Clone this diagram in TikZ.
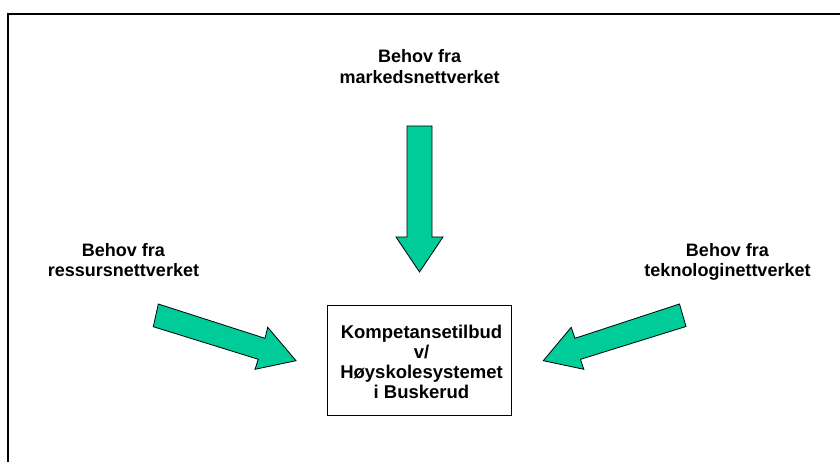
\documentclass[tikz,border=0pt]{standalone}
\usepackage{fontspec}
\setmainfont{Liberation Sans}
\begin{document}
\begin{tikzpicture}[x=1pt,y=-1pt,
  blockarrow/.style={draw=black, line width=0.8pt, fill=tealgreen, line join=miter},
  heading/.style={align=center, inner sep=0pt, anchor=base,
    font=\fontsize{18}{20.6}\selectfont\bfseries},
  offerbox/.style={draw=black, line width=1pt, minimum width=184pt,
    minimum height=110.5pt, inner sep=0pt},
  frameline/.style={draw=black, line width=2pt}]
\definecolor{tealgreen}{HTML}{00CC99}
\useasboundingbox (0,0) rectangle (840,462);

% open frame: top and left edges only
\coordinate (frameTL) at (8.2,14.3);
\coordinate (frameTR) at (841,14.3);
\coordinate (frameBL) at (8.2,463);
\draw[frameline] (frameTR) -- (frameTL) -- (frameBL);

% headings (anchored at the baseline of their last line)
\node[heading] (market) at (419.7,83.3) {Behov fra\\markedsnettverket};
\node[heading] (resource) at (123.5,276.7) {Behov fra\\ressursnettverket};
\node[heading] (technology) at (727.5,276.7) {Behov fra\\teknologinettverket};

% central box
\node[offerbox] (offer) at (419.8,360.4) {};
\node[heading, font=\fontsize{18.5}{20}\selectfont\bfseries] (offertext) at (421.5,398.3)
  {Kompetansetilbud\\v/\\Høyskolesystemet\\i Buskerud};

% block arrows pointing at the box
\draw[blockarrow] (407,126) -- (432,126) -- (432,237) -- (443,237)
  -- (419.5,272) -- (396,237) -- (407,237) -- cycle;
\draw[blockarrow] (158.3,304) -- (265,338.3) -- (267.7,327.3) -- (296,360.7)
  -- (255,369.3) -- (258.3,359.3) -- (153.3,326.7) -- cycle;
\draw[blockarrow] (679.5,304) -- (575,338.3) -- (571.2,327.3) -- (543.3,360.7)
  -- (583.8,369.3) -- (580.5,359.3) -- (686,326.5) -- cycle;
\end{tikzpicture}
\end{document}
